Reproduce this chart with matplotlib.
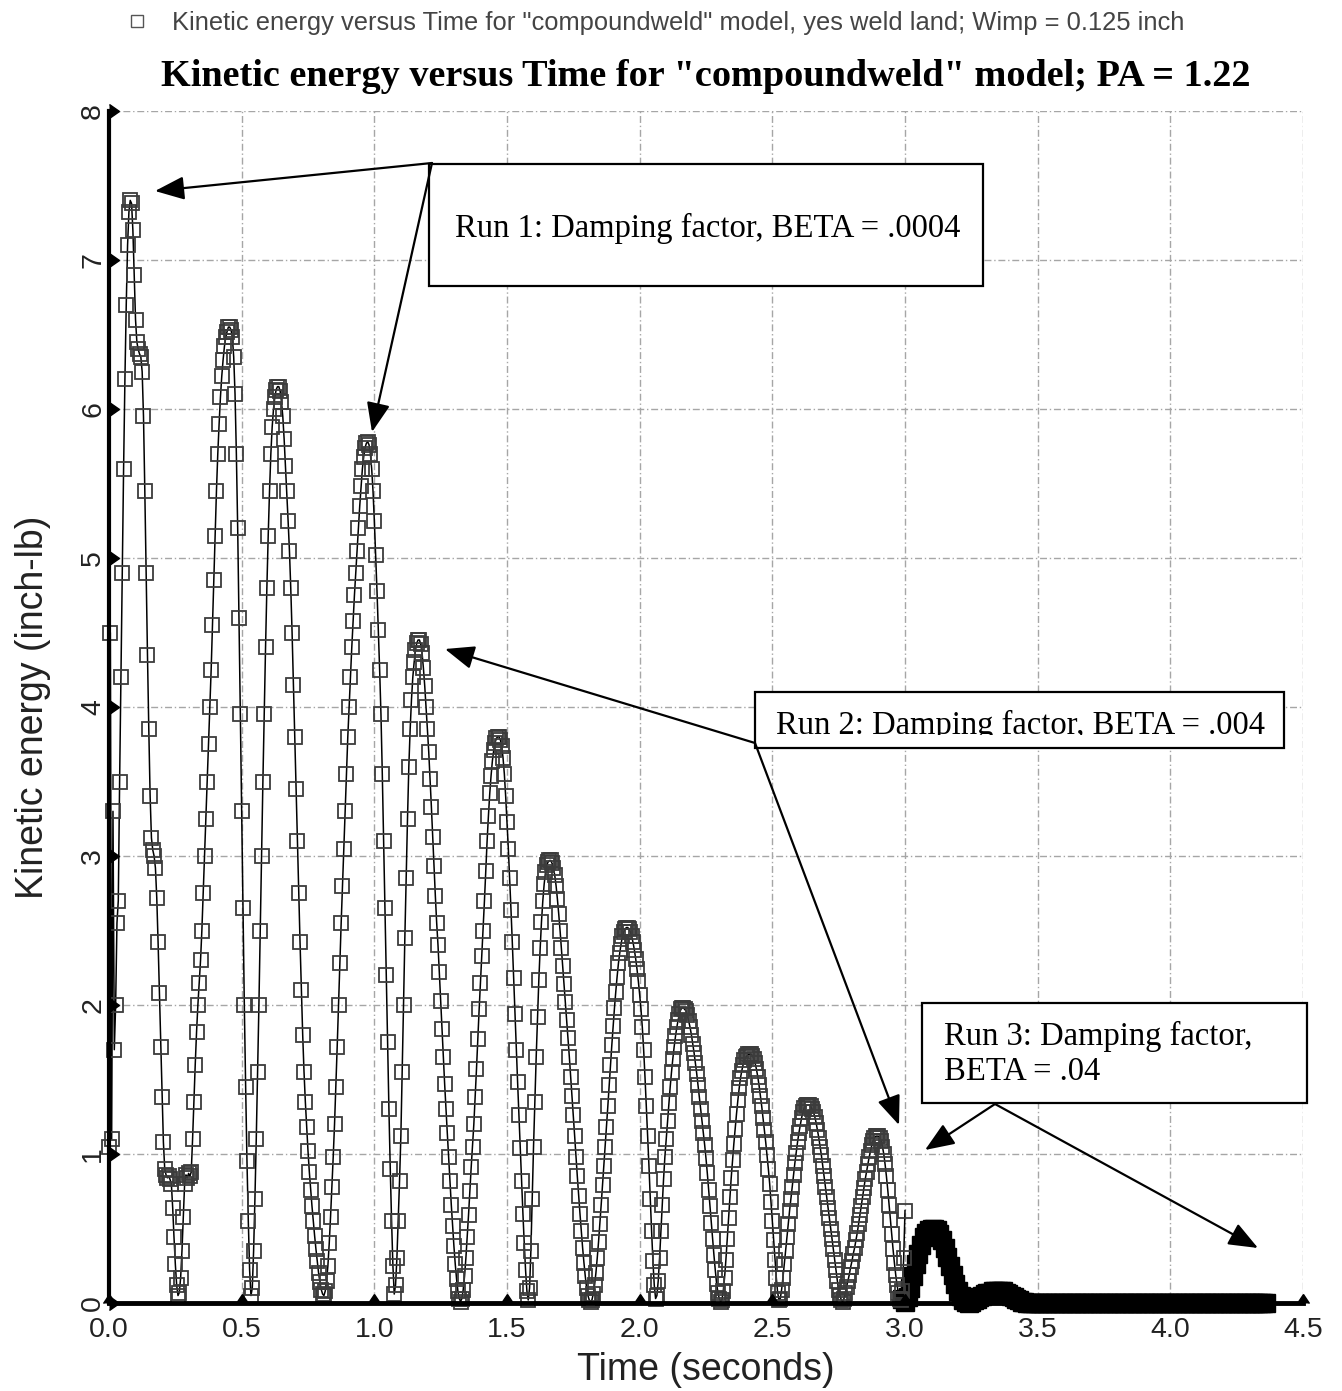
import numpy as np
import matplotlib
matplotlib.use("Agg")
import matplotlib.pyplot as plt
from matplotlib.patches import Rectangle, FancyArrowPatch
from matplotlib.lines import Line2D
from matplotlib.transforms import Bbox, TransformedBbox

# ---------------- data (kinetic energy, inch-lb) ----------------
run1_start = 0.0
run1_step = 0.005
run1_ke = [
    1.05, 4.50, 1.10, 3.30, 1.70, 2.00, 2.55, 2.70, 3.50, 4.20,
    4.90, 5.60, 6.20, 6.70, 7.10, 7.32, 7.40, 7.38, 7.20, 6.90,
    6.60, 6.45, 6.40, 6.37, 6.35, 6.25, 5.95, 5.45, 4.90, 4.35,
    3.85, 3.40, 3.12, 3.04, 3.00, 2.92, 2.72, 2.42, 2.08, 1.72,
    1.38, 1.08, 0.90, 0.86, 0.84, 0.85, 0.83, 0.80, 0.64, 0.44,
    0.26, 0.12, 0.05, 0.07, 0.17, 0.35, 0.58, 0.80, 0.86, 0.84,
    0.87, 0.85, 0.88, 1.10, 1.35, 1.60, 1.82, 2.00, 2.15, 2.30,
    2.50, 2.75, 3.00, 3.25, 3.50, 3.75, 4.00, 4.25, 4.55, 4.85,
    5.15, 5.45, 5.70, 5.90, 6.08, 6.22, 6.33, 6.42, 6.48, 6.52,
    6.55, 6.55, 6.53, 6.48, 6.35, 6.10, 5.70, 5.20, 4.60, 3.95,
    3.30, 2.65, 2.00, 1.45, 0.95, 0.55, 0.22, 0.05, 0.10, 0.35,
    0.70, 1.10, 1.55, 2.00, 2.50, 3.00, 3.50, 3.95, 4.40, 4.80,
    5.15, 5.45, 5.70, 5.88, 6.00, 6.08, 6.13, 6.15, 6.15, 6.12,
    6.05, 5.95, 5.80, 5.62, 5.45, 5.25, 5.05, 4.80, 4.50, 4.15,
    3.80, 3.45, 3.10, 2.75, 2.42, 2.10, 1.80, 1.55, 1.35, 1.18,
    1.02, 0.88, 0.76, 0.65, 0.55, 0.45, 0.36, 0.28, 0.20, 0.14,
    0.09, 0.06, 0.05, 0.08, 0.15, 0.25, 0.40, 0.58, 0.78, 0.98,
    1.20, 1.45, 1.72, 2.00, 2.28, 2.55, 2.80, 3.05, 3.30, 3.55,
    3.80, 4.00, 4.20, 4.40, 4.58, 4.75, 4.90, 5.05, 5.20, 5.35,
    5.48, 5.60, 5.68, 5.74, 5.77, 5.78, 5.76, 5.70, 5.60, 5.45,
    5.25, 5.02, 4.78, 4.52, 4.25, 3.95, 3.55, 3.10, 2.65, 2.20,
    1.75, 1.30, 0.90, 0.55, 0.25, 0.06,
]

run2_start = 1.08
run2_step = 0.005
run2_ke = [
    0.12, 0.30, 0.55, 0.82, 1.12, 1.55, 2.00, 2.45, 2.85, 3.25,
    3.60, 3.85, 4.05, 4.20, 4.30, 4.38, 4.43, 4.45, 4.45, 4.42,
    4.36, 4.26, 4.14, 4.00, 3.85, 3.70, 3.52, 3.33, 3.13, 2.93,
    2.73, 2.55, 2.40, 2.22, 2.03, 1.84, 1.65, 1.47, 1.30, 1.14,
    0.98, 0.82, 0.66, 0.52, 0.38, 0.26, 0.16, 0.08, 0.03, 0.01,
    0.03, 0.09, 0.18, 0.30, 0.44, 0.59, 0.75, 0.91, 1.05, 1.20,
    1.38, 1.57, 1.77, 1.97, 2.15, 2.33, 2.50, 2.70, 2.90, 3.10,
    3.27, 3.42, 3.54, 3.64, 3.71, 3.76, 3.79, 3.80, 3.80, 3.78,
    3.74, 3.66, 3.55, 3.40, 3.23, 3.05, 2.85, 2.64, 2.42, 2.18,
    1.94, 1.70, 1.48, 1.26, 1.04, 0.82, 0.60, 0.40, 0.22, 0.08,
    0.02, 0.10, 0.35, 0.70, 1.05, 1.35, 1.65, 1.92, 2.17, 2.38,
    2.56, 2.70, 2.81, 2.89, 2.94, 2.96, 2.97, 2.97, 2.95, 2.92,
    2.87, 2.80, 2.71, 2.61, 2.50, 2.38, 2.26, 2.14, 2.02, 1.90,
    1.78, 1.65, 1.52, 1.39, 1.26, 1.12, 0.98, 0.85, 0.72, 0.60,
    0.48, 0.37, 0.27, 0.18, 0.10, 0.05, 0.02, 0.01, 0.02, 0.06,
    0.12, 0.20, 0.30, 0.41, 0.53, 0.66, 0.79, 0.92, 1.05, 1.18,
    1.32, 1.46, 1.60, 1.73, 1.86, 1.98, 2.09, 2.19, 2.28, 2.35,
    2.41, 2.46, 2.49, 2.51, 2.52, 2.52, 2.51, 2.49, 2.46, 2.42,
    2.37, 2.31, 2.24, 2.16, 2.07, 1.97, 1.85, 1.70, 1.52, 1.32,
    1.12, 0.92, 0.70, 0.48, 0.28, 0.12, 0.03, 0.05, 0.15, 0.30,
    0.48, 0.66, 0.83, 0.98, 1.10, 1.22, 1.34, 1.45, 1.55, 1.64,
    1.72, 1.79, 1.85, 1.90, 1.94, 1.97, 1.98, 1.98, 1.97, 1.96,
    1.93, 1.89, 1.85, 1.80, 1.74, 1.68, 1.61, 1.54, 1.46, 1.38,
    1.30, 1.22, 1.14, 1.06, 0.97, 0.87, 0.76, 0.65, 0.54, 0.43,
    0.32, 0.22, 0.13, 0.07, 0.03, 0.01, 0.02, 0.08, 0.17, 0.29,
    0.43, 0.57, 0.71, 0.84, 0.96, 1.07, 1.17, 1.27, 1.36, 1.44,
    1.51, 1.56, 1.60, 1.63, 1.65, 1.66, 1.67, 1.67, 1.67, 1.66,
    1.64, 1.61, 1.57, 1.52, 1.46, 1.39, 1.32, 1.24, 1.16, 1.08,
    0.99, 0.90, 0.80, 0.68, 0.55, 0.42, 0.29, 0.17, 0.07, 0.02,
    0.03, 0.09, 0.17, 0.26, 0.35, 0.44, 0.53, 0.62, 0.70, 0.78,
    0.86, 0.94, 1.01, 1.08, 1.14, 1.19, 1.24, 1.28, 1.31, 1.32,
    1.33, 1.33, 1.33, 1.32, 1.30, 1.28, 1.25, 1.21, 1.16, 1.11,
    1.05, 0.99, 0.92, 0.85, 0.78, 0.71, 0.64, 0.57, 0.50, 0.43,
    0.36, 0.29, 0.22, 0.15, 0.09, 0.05, 0.02, 0.01, 0.03, 0.07,
    0.11, 0.15, 0.19, 0.24, 0.28, 0.33, 0.37, 0.42, 0.47, 0.53,
    0.59, 0.65, 0.71, 0.77, 0.83, 0.88, 0.93, 0.98, 1.02, 1.06,
    1.09, 1.11, 1.12, 1.12, 1.12, 1.11, 1.09, 1.05, 1.00, 0.93,
    0.85, 0.76, 0.66, 0.56, 0.46, 0.36, 0.27, 0.19, 0.12, 0.07,
    0.03, 0.02, 0.08, 0.30, 0.62,
]

run3_start = 2.99
run3_step = 0.01
run3_ke = [
    0.03, 0.01, 0.04, 0.10, 0.18, 0.26, 0.33, 0.39, 0.44, 0.47,
    0.49, 0.50, 0.50, 0.49, 0.46, 0.42, 0.37, 0.31, 0.25, 0.19,
    0.13, 0.08, 0.05, 0.02, 0.01, 0.00, 0.01, 0.02, 0.03, 0.04,
    0.05, 0.06, 0.07, 0.07, 0.08, 0.08, 0.08, 0.08, 0.08, 0.07,
    0.06, 0.05, 0.04, 0.03, 0.02, 0.01, 0.01, 0.00, 0.00, 0.00,
    0.00, 0.00, 0.00, 0.00, 0.00, 0.00, 0.00, 0.00, 0.00, 0.00,
    0.00, 0.00, 0.00, 0.00, 0.00, 0.00, 0.00, 0.00, 0.00, 0.00,
    0.00, 0.00, 0.00, 0.00, 0.00, 0.00, 0.00, 0.00, 0.00, 0.00,
    0.00, 0.00, 0.00, 0.00, 0.00, 0.00, 0.00, 0.00, 0.00, 0.00,
    0.00, 0.00, 0.00, 0.00, 0.00, 0.00, 0.00, 0.00, 0.00, 0.00,
    0.00, 0.00, 0.00, 0.00, 0.00, 0.00, 0.00, 0.00, 0.00, 0.00,
    0.00, 0.00, 0.00, 0.00, 0.00, 0.00, 0.00, 0.00, 0.00, 0.00,
    0.00, 0.00, 0.00, 0.00, 0.00, 0.00, 0.00, 0.00, 0.00, 0.00,
    0.00, 0.00, 0.00, 0.00, 0.00, 0.00, 0.00, 0.00,
]

x_ticks = [0.0, 0.5, 1.0, 1.5, 2.0, 2.5, 3.0, 3.5, 4.0, 4.5]
x_tick_labels = ["0.0", "0.5", "1.0", "1.5", "2.0", "2.5", "3.0", "3.5", "4.0", "4.5"]
y_ticks = [0, 1, 2, 3, 4, 5, 6, 7, 8]
y_tick_labels = ["0", "1", "2", "3", "4", "5", "6", "7", "8"]

title_text = 'Kinetic energy versus Time for "compoundweld" model; PA = 1.22'
legend_text = 'Kinetic energy versus Time for "compoundweld" model, yes weld land; Wimp = 0.125 inch'
x_label = "Time (seconds)"
y_label = "Kinetic energy (inch-lb)"
run1_note = "Run 1: Damping factor, BETA = .0004"
run2_note = "Run 2: Damping factor, BETA = .004"
run3_note_1 = "Run 3: Damping factor,"
run3_note_2 = "BETA = .04"

# ---------------- figure ----------------
plt.rcParams["font.family"] = ["Liberation Sans", "DejaVu Sans"]
W, H = 1342, 1391
fig = plt.figure(figsize=(W / 100, H / 100), dpi=100)
fig.patch.set_facecolor("white")


def fx(px):
    return px / W


def fy(py):
    return 1 - py / H


ax_l, ax_r, ax_t, ax_b = 109, 1303, 111, 1303
ax = fig.add_axes([fx(ax_l), fy(ax_b), (ax_r - ax_l) / W, (ax_b - ax_t) / H])

t1 = run1_start + run1_step * np.arange(len(run1_ke))
t2 = run2_start + run2_step * np.arange(len(run2_ke))
t3 = run3_start + run3_step * np.arange(len(run3_ke))
t12 = np.concatenate([t1, t2])
ke12 = np.concatenate([np.array(run1_ke), np.array(run2_ke)])

ax.plot(t3, run3_ke, color="black", lw=4, marker="s", ms=13, mfc="black",
        mec="black", mew=1.0, clip_on=False, zorder=3)
ax.plot(t12, ke12, color="black", lw=1.1, marker="s", ms=10.5, mfc="none",
        mec="#3c3c3c", mew=1.3, clip_on=False, zorder=4)

ax.set_xlim(0, 4.5)
ax.set_ylim(0, 8)
ax.set_xticks(x_ticks)
ax.set_xticklabels(x_tick_labels)
ax.set_yticks(y_ticks)
ax.set_yticklabels(y_tick_labels)
ax.tick_params(axis="both", length=0, labelsize=20.5, labelcolor="#222222")
ax.tick_params(axis="x", pad=10)
ax.tick_params(axis="y", pad=2, labelrotation=90)
for lab in ax.get_yticklabels():
    lab.set_va("center")

ax.grid(True, color="#a6a6a6", linestyle=(0, (5, 2, 1, 2)), lw=1.0, zorder=0)
ax.set_axisbelow(True)
for s in ["top", "right"]:
    ax.spines[s].set_visible(False)
ax.spines["left"].set_linewidth(3.0)
ax.spines["bottom"].set_linewidth(3.5)
ax.spines["left"].set_zorder(5)
ax.spines["bottom"].set_zorder(5)

# triangular tick marks
ax.plot(np.zeros(len(y_ticks)), y_ticks, ls="none", marker=9, ms=10,
        color="black", clip_on=False, zorder=6)
ax.plot(x_ticks, np.zeros(len(x_ticks)), ls="none", marker=10, ms=9,
        color="black", clip_on=False, zorder=6)

ax.set_xlabel(x_label, fontsize=27, color="#222222")
ax.xaxis.set_label_coords(0.5, -0.041)
ax.xaxis.label.set_va("top")
ax.set_ylabel(y_label, fontsize=27, color="#222222")
ax.yaxis.set_label_coords(-0.0486, 0.5)

# title and legend line
fig.text(fx(706), fy(86), title_text, ha="center", va="baseline",
         fontsize=27.5, fontweight="bold", family=["Liberation Serif", "DejaVu Serif"])
fig.add_artist(Line2D([fx(137)], [fy(21)], marker="s", ms=8, mfc="none",
                      mec="#555555", mew=1.0, transform=fig.transFigure))
fig.text(fx(172), fy(30), legend_text, ha="left", va="baseline",
         fontsize=18.4, color="#444444")

# annotation boxes
serif = ["Liberation Serif", "DejaVu Serif"]


def add_box(x0, y0, x1, y1):
    r = Rectangle((fx(x0), fy(y1)), (x1 - x0) / W, (y1 - y0) / H,
                  transform=fig.transFigure, facecolor="white",
                  edgecolor="black", lw=1.6, zorder=10)
    fig.add_artist(r)


def add_arrow(p0, p1):
    a = FancyArrowPatch((fx(p0[0]), fy(p0[1])), (fx(p1[0]), fy(p1[1])),
                        transform=fig.transFigure,
                        arrowstyle="-|>,head_length=1.0,head_width=0.4",
                        mutation_scale=18, lw=1.6, color="black",
                        shrinkA=0, shrinkB=0, zorder=11)
    fig.add_artist(a)


add_box(429, 164, 983, 286)
fig.text(fx(455), fy(237), run1_note, ha="left", va="baseline",
         fontsize=23.5, family=serif, zorder=12)

add_box(755, 692, 1284, 748)
t_run2 = fig.text(fx(776), fy(734), run2_note, ha="left", va="baseline",
                  fontsize=23.5, family=serif, zorder=12)
clip_bb = TransformedBbox(Bbox([[fx(755), fy(735)], [fx(1284), fy(692)]]),
                          fig.transFigure)
t_run2.set_clip_box(clip_bb)
t_run2.set_clip_on(True)

add_box(922, 1003, 1307, 1103)
fig.text(fx(944), fy(1045), run3_note_1, ha="left", va="baseline",
         fontsize=23.5, family=serif, zorder=12)
fig.text(fx(944), fy(1080), run3_note_2, ha="left", va="baseline",
         fontsize=23.5, family=serif, zorder=12)

add_arrow((432, 163), (155, 191))
add_arrow((432, 163), (372, 432))
add_arrow((755, 743), (445, 649))
add_arrow((755, 743), (899, 1125))
add_arrow((995, 1104), (925, 1150))
add_arrow((995, 1104), (1258, 1248))

fig.savefig("out.png", dpi=100, facecolor="white")
